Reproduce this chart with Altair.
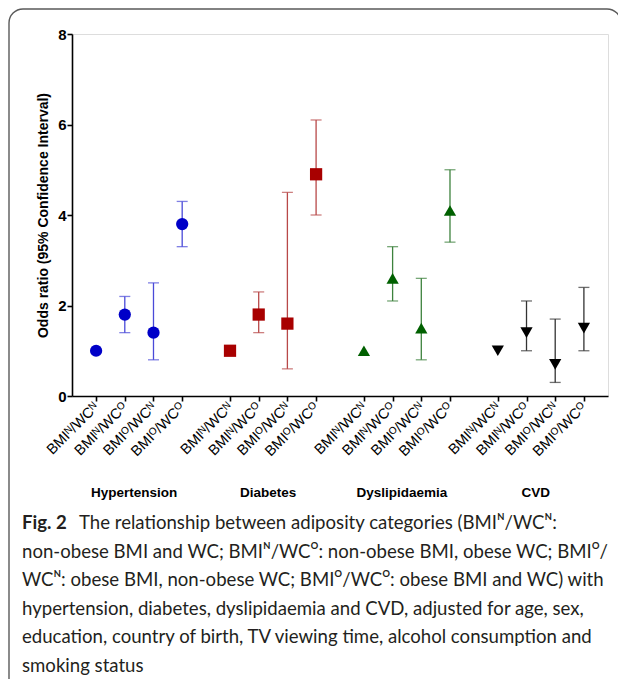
import altair as alt
import pandas as pd

groups = ["Hypertension", "Diabetes", "Dyslipidaemia", "CVD"]
categories = ["BMIᴺ/WCᴺ", "BMIᴺ/WCᴼ", "BMIᴼ/WCᴺ", "BMIᴼ/WCᴼ"]

hypertension_or = [1.0, 1.8, 1.4, 3.8]
hypertension_lo = [None, 1.4, 0.8, 3.3]
hypertension_hi = [None, 2.2, 2.5, 4.3]

diabetes_or = [1.0, 1.8, 1.6, 4.9]
diabetes_lo = [None, 1.4, 0.6, 4.0]
diabetes_hi = [None, 2.3, 4.5, 6.1]

dyslipidaemia_or = [1.0, 2.6, 1.5, 4.1]
dyslipidaemia_lo = [None, 2.1, 0.8, 3.4]
dyslipidaemia_hi = [None, 3.3, 2.6, 5.0]

cvd_or = [1.0, 1.4, 0.7, 1.5]
cvd_lo = [None, 1.0, 0.3, 1.0]
cvd_hi = [None, 2.1, 1.7, 2.4]

point_colors = ["#0000c8", "#a80000", "#006000", "#000000"]
bar_colors = ["#4a4ad8", "#b84848", "#3d823d", "#333333"]
shapes = ["circle", "square", "triangle-up", "triangle-down"]

caption_lead = "Fig. 2"
caption_first = "The relationship between adiposity categories (BMIᴺ/WCᴺ:"
caption_rest = [
    "non-obese BMI and WC; BMIᴺ/WCᴼ: non-obese BMI, obese WC; BMIᴼ/",
    "WCᴺ: obese BMI, non-obese WC; BMIᴼ/WCᴼ: obese BMI and WC) with",
    "hypertension, diabetes, dyslipidaemia and CVD, adjusted for age, sex,",
    "education, country of birth, TV viewing time, alcohol consumption and",
    "smoking status",
]

series = [
    (hypertension_or, hypertension_lo, hypertension_hi),
    (diabetes_or, diabetes_lo, diabetes_hi),
    (dyslipidaemia_or, dyslipidaemia_lo, dyslipidaemia_hi),
    (cvd_or, cvd_lo, cvd_hi),
]

GROUP_STEP = 14 / 3  # group spacing in slot units
rows = []
for g, (orv, lo, hi) in enumerate(series):
    for i in range(4):
        rows.append(dict(group=groups[g], cat=categories[i], pos=g * GROUP_STEP + i,
                         OR=orv[i], lo=lo[i], hi=hi[i]))
df = pd.DataFrame(rows)
ci = df.dropna(subset=["lo"])
glab = pd.DataFrame({"group": groups, "pos": [g * GROUP_STEP + 1.5 for g in range(4)]})

W, H = 536, 362
xdom = [-0.84, 3 * GROUP_STEP + 3 + 0.84]
xs = alt.Scale(domain=xdom, nice=False, zero=False)
ys = alt.Scale(domain=[0, 8], nice=False)

label_expr = "[" + ",".join("'%s'" % c for c in categories) + "][(round(datum.value*3) % 14) / 3]"

x_axis = alt.Axis(values=[float(v) for v in df["pos"]], labelExpr=label_expr, labelAngle=-45,
                  labelAlign="right", labelBaseline="middle", labelFontSize=14.5,
                  labelFont="Liberation Sans", labelPadding=4, labelOverlap=False,
                  labelBound=False, title=None, grid=False,
                  domainColor="#000", domainWidth=1.6, tickColor="#000", tickWidth=1.6,
                  tickSize=5)
y_axis = alt.Axis(values=[0, 2, 4, 6, 8], title="Odds ratio (95% Confidence Interval)",
                  titleFont="Liberation Sans", titleFontSize=14, titleFontWeight="bold",
                  titlePadding=7, labelFont="Liberation Sans", labelFontSize=15,
                  labelFontWeight="bold", labelPadding=1, labelOverlap=False, grid=False,
                  domainColor="#000", domainWidth=1.6, tickColor="#000", tickWidth=1.6,
                  tickSize=5)

color_scale = alt.Scale(domain=groups, range=point_colors)
bar_scale = alt.Scale(domain=groups, range=bar_colors)
shape_scale = alt.Scale(domain=groups, range=shapes)

X = alt.X("pos:Q", scale=xs, axis=x_axis)

points = alt.Chart(df).mark_point(filled=True, opacity=1, size=150).encode(
    x=X,
    y=alt.Y("OR:Q", scale=ys, axis=y_axis),
    fill=alt.Fill("group:N", scale=color_scale, legend=None),
    shape=alt.Shape("group:N", scale=shape_scale, legend=None),
)

rules = alt.Chart(ci).mark_rule(strokeWidth=1.3).encode(
    x=X,
    y=alt.Y("lo:Q", scale=ys, axis=y_axis),
    y2="hi:Q",
    stroke=alt.Stroke("group:N", scale=bar_scale, legend=None),
)
caps_hi = alt.Chart(ci).mark_tick(orient="horizontal", size=11, thickness=1.3).encode(
    x=X,
    y=alt.Y("hi:Q", scale=ys, axis=y_axis),
    color=alt.Color("group:N", scale=bar_scale, legend=None),
)
caps_lo = alt.Chart(ci).mark_tick(orient="horizontal", size=11, thickness=1.3).encode(
    x=X,
    y=alt.Y("lo:Q", scale=ys, axis=y_axis),
    color=alt.Color("group:N", scale=bar_scale, legend=None),
)

group_text = alt.Chart(glab).mark_text(font="Liberation Sans", fontSize=13.5,
                                       fontWeight="bold", color="#000", dx=-5,
                                       baseline="middle").encode(
    x=X,
    y=alt.value(459),
    text="group:N",
)

one = pd.DataFrame({"k": [0]})
frame = alt.Chart(one).mark_rect(fillOpacity=0, stroke="#5a5a5a", strokeWidth=1.4,
                                 cornerRadius=14).encode(
    x=alt.value(-63), x2=alt.value(549), y=alt.value(-25), y2=alt.value(720))

cap_font = "Lato"
cap_size = 18.6
cap_x = -50
lead = alt.Chart(one).mark_text(text=caption_lead, font=cap_font, fontSize=cap_size,
                                fontWeight="bold", align="left", baseline="alphabetic",
                                color="#231f20").encode(x=alt.value(cap_x), y=alt.value(495))
first = alt.Chart(one).mark_text(text=caption_first, font=cap_font, fontSize=cap_size,
                                 align="left", baseline="alphabetic",
                                 color="#231f20").encode(x=alt.value(cap_x + 57), y=alt.value(495))
rest = alt.Chart(one).mark_text(text=caption_rest, font=cap_font, fontSize=cap_size,
                                align="left", baseline="alphabetic", lineHeight=28.5,
                                color="#231f20").encode(x=alt.value(cap_x), y=alt.value(523.5))

chart = alt.layer(frame, rules, caps_hi, caps_lo, points, group_text, lead, first, rest).properties(
    width=W, height=H,
    autosize=alt.AutoSizeParams(type="none"),
    padding={"left": 64, "top": 26, "right": 10, "bottom": 283},
).resolve_scale(color="independent", fill="independent", stroke="independent"
).configure_view(strokeWidth=0).configure_axis(labelOverlap=False
).configure(background="white")

chart.save("out.html", embed_options={"renderer": "svg", "actions": False})
